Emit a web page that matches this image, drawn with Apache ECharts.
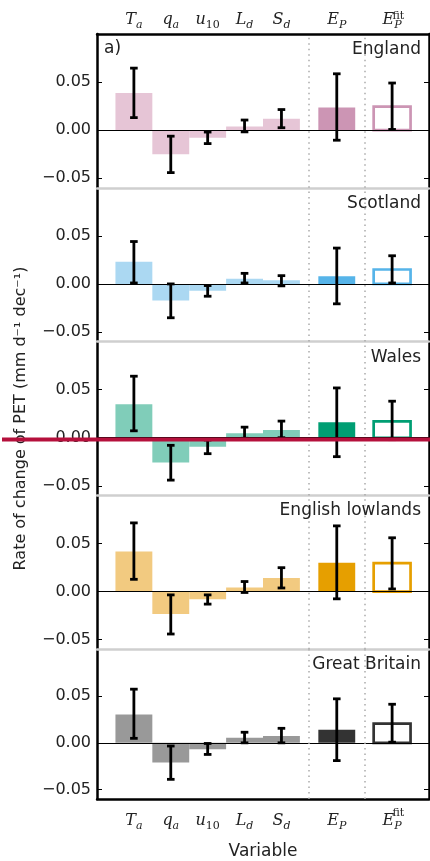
<!DOCTYPE html>
<html>
<head>
<meta charset="utf-8">
<title>Rate of change of PET</title>
<script src="https://cdn.jsdelivr.net/npm/echarts@6/dist/echarts.min.js"></script>
<style>
  html, body { margin: 0; padding: 0; background: #fff; }
  #chart { width: 430px; height: 861px; }
</style>
</head>
<body>
<div id="chart"></div>
<script>
// bar positions on the x axis (gap before E_P and E_P^fit)
const varPos = [0, 1, 2, 3, 4, 5.5, 7];
const varLabels = ['{m|T}{s|a}', '{m|q}{s|a}', '{m|u}{n|10}', '{m|L}{s|d}', '{m|S}{s|d}', '{m|E}{s|P}', '{m|E}{s|P}'];
const yTicks = [-0.05, 0, 0.05];
const regions = ['England', 'Scotland', 'Wales', 'English lowlands', 'Great Britain'];

// trend (bar) and error bar low / high, mm d-1 dec-1
const englandVal = [0.0386, -0.025, -0.008, 0.0039, 0.0119, 0.0235, 0.0245];
const englandLo  = [0.013, -0.0442, -0.014, -0.0018, 0.0025, -0.0105, 0.0007];
const englandHi  = [0.0645, -0.0063, -0.002, 0.0105, 0.0214, 0.0586, 0.049];

const scotlandVal = [0.0231, -0.0173, -0.0072, 0.0055, 0.0037, 0.0079, 0.015];
const scotlandLo  = [0.001, -0.0352, -0.0128, 0.001, -0.002, -0.0207, 0.001];
const scotlandHi  = [0.0441, 0.0, -0.0017, 0.011, 0.0086, 0.0373, 0.0293];

const walesVal = [0.0349, -0.0259, -0.0093, 0.0046, 0.008, 0.016, 0.017];
const walesLo  = [0.0072, -0.0441, -0.0166, -0.0006, 0.0, -0.0197, -0.002];
const walesHi  = [0.064, -0.0079, -0.0024, 0.011, 0.0173, 0.0518, 0.038];

const lowlandsVal = [0.0417, -0.0235, -0.008, 0.0041, 0.0141, 0.030, 0.0295];
const lowlandsLo  = [0.0127, -0.0442, -0.0131, -0.001, 0.0037, -0.0076, 0.0027];
const lowlandsHi  = [0.0714, -0.0035, -0.0035, 0.0104, 0.0248, 0.0683, 0.0559];

const britainVal = [0.0302, -0.021, -0.0069, 0.0055, 0.0072, 0.014, 0.0205];
const britainLo  = [0.0048, -0.039, -0.0124, 0.0, 0.0, -0.019, 0.0007];
const britainHi  = [0.0573, -0.0034, -0.0007, 0.0113, 0.0155, 0.047, 0.0412];

const regionVal = [englandVal, scotlandVal, walesVal, lowlandsVal, britainVal];
const regionLo = [englandLo, scotlandLo, walesLo, lowlandsLo, britainLo];
const regionHi = [englandHi, scotlandHi, walesHi, lowlandsHi, britainHi];

const lightColors = ['#e6c5d6', '#abd8f2', '#80cdb9', '#f2ca80', '#999999'];
const darkColors = ['#cc95b4', '#56b4e9', '#009e73', '#e69f00', '#333333'];

const chart = echarts.init(document.getElementById('chart'));

const panelTop = 34;
const panelH = 153.8;
const gridLeft = 97;
const gridRight = 1;

const mathRich = {
  m: { fontFamily: 'DejaVu Serif', fontStyle: 'italic', fontSize: 16, color: '#222', lineHeight: 22 },
  s: { fontFamily: 'DejaVu Serif', fontStyle: 'italic', fontSize: 11, color: '#222', lineHeight: 13, verticalAlign: 'bottom' },
  n: { fontFamily: 'DejaVu Serif', fontSize: 11, color: '#222', lineHeight: 13, verticalAlign: 'bottom' }
};

function varLabel (v) {
  const i = varPos.indexOf(v)
  return i < 0 ? '' : varLabels[i]
}

function tickLabel (v) {
  if (Math.abs(v) < 1e-9) return '0.00'
  return (v < 0 ? '\u2212' : '') + Math.abs(v).toFixed(2)
}

function makeRender (r) {
  return function (params, api) {
    const k = params.dataIndex
    const x = api.value(0)
    const v = api.value(1)
    const a = api.coord([x - 0.5, v])
    const b = api.coord([x + 0.5, 0])
    const rect = { x: a[0], y: Math.min(a[1], b[1]), width: b[0] - a[0], height: Math.abs(b[1] - a[1]) }
    let box
    if (k === 6) {
      box = { type: 'rect', shape: rect, style: { fill: 'rgba(255,255,255,0)', stroke: darkColors[r], lineWidth: 2.7 } }
    } else {
      box = { type: 'rect', shape: rect, style: { fill: k === 5 ? darkColors[r] : lightColors[r] } }
    }
    const pLo = api.coord([x, api.value(2)])
    const pHi = api.coord([x, api.value(3)])
    const cx = pLo[0]
    const cap = 3.8
    const err = { stroke: '#000', lineWidth: 2.8 }
    return {
      type: 'group',
      children: [
        box,
        { type: 'line', shape: { x1: cx, y1: pLo[1], x2: cx, y2: pHi[1] }, style: err },
        { type: 'line', shape: { x1: cx - cap, y1: pLo[1], x2: cx + cap, y2: pLo[1] }, style: err },
        { type: 'line', shape: { x1: cx - cap, y1: pHi[1], x2: cx + cap, y2: pHi[1] }, style: err }
      ]
    }
  }
}

const grids = []
const xAxes = []
const yAxes = []
const series = []
const titles = [{
  text: 'a)', left: 104, top: panelTop + 6, padding: 0,
  textStyle: { fontFamily: 'DejaVu Sans', fontSize: 17, fontWeight: 'normal', color: '#222' }
}]

regions.forEach((name, r) => {
  const top = panelTop + r * panelH
  const last = r === regions.length - 1
  grids.push({ left: gridLeft, right: gridRight, top: top, height: panelH })
  titles.push({
    text: name, right: 9, top: top + 7, padding: 0,
    textStyle: { fontFamily: 'DejaVu Sans', fontSize: 17, fontWeight: 'normal', color: '#222' }
  })
  xAxes.push({
    gridIndex: r, type: 'value', min: -1, max: 8, position: 'bottom',
    axisLine: { onZero: false, lineStyle: { color: last ? '#000' : '#cfcfcf', width: 2.5 } },
    axisTick: { show: false },
    splitLine: { show: false },
    axisLabel: last
      ? { customValues: varPos, formatter: varLabel, margin: 11, rich: mathRich }
      : { show: false },
    name: last ? 'Variable' : '',
    nameLocation: 'middle',
    nameGap: 44,
    nameTextStyle: { fontFamily: 'DejaVu Sans', fontSize: 17, color: '#222' }
  })
  yAxes.push({
    gridIndex: r, type: 'value', min: -0.06, max: 0.1, position: 'left',
    axisLine: { onZero: false, lineStyle: { color: '#000', width: 2.5 } },
    axisTick: { inside: true, length: 5, customValues: yTicks, lineStyle: { color: '#000', width: 1 } },
    splitLine: { show: false },
    axisLabel: {
      customValues: yTicks, formatter: tickLabel, margin: 6,
      fontFamily: 'DejaVu Sans', fontSize: 16, color: '#222'
    },
    name: r === 2 ? 'Rate of change of PET (mm d\u207b\u00b9 dec\u207b\u00b9)' : '',
    nameLocation: 'middle',
    nameRotate: 90,
    nameGap: 68,
    nameTextStyle: { fontFamily: 'DejaVu Sans', fontSize: 16, color: '#222' }
  })
  yAxes.push({
    gridIndex: r, type: 'value', min: -0.06, max: 0.1, position: 'right',
    axisLine: { onZero: false, lineStyle: { color: '#000', width: 2.5 } },
    axisTick: { inside: true, length: 5, customValues: yTicks, lineStyle: { color: '#000', width: 1 } },
    splitLine: { show: false },
    axisLabel: { show: false }
  })
  series.push({
    type: 'custom',
    xAxisIndex: r,
    yAxisIndex: 2 * r,
    renderItem: makeRender(r),
    data: varPos.map((x, j) => [x, regionVal[r][j], regionLo[r][j], regionHi[r][j]]),
    animation: false,
    markLine: {
      silent: true,
      symbol: 'none',
      label: { show: false },
      animation: false,
      data: [
        { yAxis: 0, lineStyle: { color: '#000', width: 1.2, type: 'solid' } },
        { xAxis: 4.75, lineStyle: { color: '#aaa', width: 1.5, type: [1.5, 4] } },
        { xAxis: 6.25, lineStyle: { color: '#aaa', width: 1.5, type: [1.5, 4] } }
      ]
    }
  })
})

// top axis of the first panel, with labels
xAxes.push({
  gridIndex: 0, type: 'value', min: -1, max: 8, position: 'top',
  axisLine: { onZero: false, lineStyle: { color: '#000', width: 2.5 } },
  axisTick: { show: false },
  splitLine: { show: false },
  axisLabel: { customValues: varPos, formatter: varLabel, margin: 3, rich: mathRich }
})
// "fit" superscripts above the last label, top and bottom
const fitLabel = { customValues: [7.17], formatter: () => '{f|fit}', rich: { f: { fontFamily: 'DejaVu Serif', fontSize: 11, color: '#222' } } }
xAxes.push({
  gridIndex: 0, type: 'value', min: -1, max: 8, position: 'top',
  axisLine: { show: false }, axisTick: { show: false }, splitLine: { show: false },
  axisLabel: Object.assign({ margin: 12 }, fitLabel)
})
xAxes.push({
  gridIndex: 4, type: 'value', min: -1, max: 8, position: 'bottom',
  axisLine: { show: false }, axisTick: { show: false }, splitLine: { show: false },
  axisLabel: Object.assign({ margin: 9 }, fitLabel)
})

const option = {
  backgroundColor: '#fff',
  animation: false,
  title: titles,
  grid: grids,
  xAxis: xAxes,
  yAxis: yAxes,
  series: series,
  graphic: [{
    // red highlight line drawn over the figure
    type: 'line', z: 100,
    shape: { x1: 2, y1: 439.5, x2: 430, y2: 439.5 },
    style: { stroke: '#b5103c', lineWidth: 4 }
  }]
}
chart.setOption(option)
</script>
</body>
</html>
